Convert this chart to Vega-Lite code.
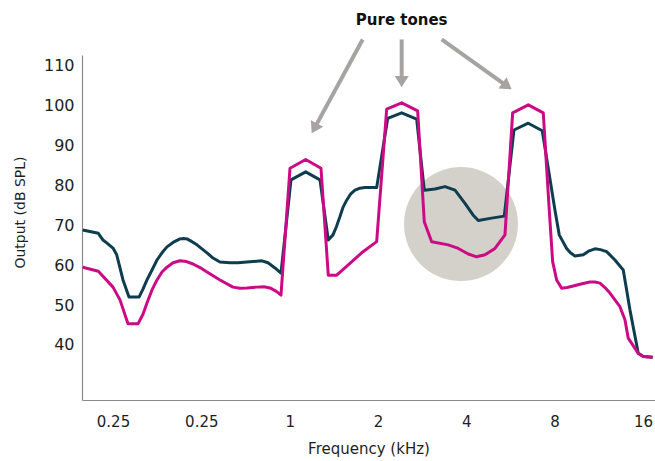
{
  "$schema": "https://vega.github.io/schema/vega-lite/v6.json",
  "width": 573,
  "height": 345,
  "autosize": "none",
  "padding": {"left": 82, "top": 55, "right": 0, "bottom": 61},
  "background": "#ffffff",
  "config": {
    "view": {"stroke": null},
    "font": "DejaVu Sans",
    "axis": {"grid": false, "ticks": false, "tickSize": 0, "domainColor": "#8a8a8a", "domainWidth": 1.2, "labelColor": "#1e1e1e", "titleColor": "#1e1e1e", "titleFontWeight": "normal"}
  },
  "datasets": {
    "curves": [
      {"series": "Curve A", "f": 0.1971, "db": 68.8},
      {"series": "Curve A", "f": 0.2228, "db": 68.0},
      {"series": "Curve A", "f": 0.2311, "db": 66.3},
      {"series": "Curve A", "f": 0.2379, "db": 65.6},
      {"series": "Curve A", "f": 0.25, "db": 64.3},
      {"series": "Curve A", "f": 0.2574, "db": 62.6},
      {"series": "Curve A", "f": 0.2704, "db": 56.3},
      {"series": "Curve A", "f": 0.2834, "db": 52.0},
      {"series": "Curve A", "f": 0.3066, "db": 52.0},
      {"series": "Curve A", "f": 0.3163, "db": 54.0},
      {"series": "Curve A", "f": 0.3264, "db": 56.3},
      {"series": "Curve A", "f": 0.3395, "db": 58.8},
      {"series": "Curve A", "f": 0.3531, "db": 61.3},
      {"series": "Curve A", "f": 0.3672, "db": 63.1},
      {"series": "Curve A", "f": 0.3819, "db": 64.6},
      {"series": "Curve A", "f": 0.4003, "db": 65.7},
      {"series": "Curve A", "f": 0.4229, "db": 66.6},
      {"series": "Curve A", "f": 0.4347, "db": 66.7},
      {"series": "Curve A", "f": 0.4468, "db": 66.6},
      {"series": "Curve A", "f": 0.4647, "db": 65.9},
      {"series": "Curve A", "f": 0.4833, "db": 65.1},
      {"series": "Curve A", "f": 0.5026, "db": 64.1},
      {"series": "Curve A", "f": 0.5228, "db": 63.1},
      {"series": "Curve A", "f": 0.5479, "db": 61.8},
      {"series": "Curve A", "f": 0.5789, "db": 60.8},
      {"series": "Curve A", "f": 0.6261, "db": 60.6},
      {"series": "Curve A", "f": 0.6667, "db": 60.6},
      {"series": "Curve A", "f": 0.7155, "db": 60.8},
      {"series": "Curve A", "f": 0.8048, "db": 61.1},
      {"series": "Curve A", "f": 0.8437, "db": 60.6},
      {"series": "Curve A", "f": 0.8913, "db": 59.3},
      {"series": "Curve A", "f": 0.9343, "db": 58.0},
      {"series": "Curve A", "f": 1.0106, "db": 81.4},
      {"series": "Curve A", "f": 1.1342, "db": 83.4},
      {"series": "Curve A", "f": 1.2688, "db": 81.4},
      {"series": "Curve A", "f": 1.3542, "db": 66.3},
      {"series": "Curve A", "f": 1.4051, "db": 67.6},
      {"series": "Curve A", "f": 1.4442, "db": 69.7},
      {"series": "Curve A", "f": 1.4845, "db": 72.2},
      {"series": "Curve A", "f": 1.5198, "db": 74.5},
      {"series": "Curve A", "f": 1.5647, "db": 76.3},
      {"series": "Curve A", "f": 1.6119, "db": 77.8},
      {"series": "Curve A", "f": 1.6698, "db": 78.8},
      {"series": "Curve A", "f": 1.7366, "db": 79.3},
      {"series": "Curve A", "f": 1.8061, "db": 79.5},
      {"series": "Curve A", "f": 1.8784, "db": 79.5},
      {"series": "Curve A", "f": 1.9799, "db": 79.5},
      {"series": "Curve A", "f": 2.1584, "db": 96.8},
      {"series": "Curve A", "f": 2.4091, "db": 98.2},
      {"series": "Curve A", "f": 2.7097, "db": 96.6},
      {"series": "Curve A", "f": 2.8765, "db": 78.8},
      {"series": "Curve A", "f": 3.1284, "db": 79.1},
      {"series": "Curve A", "f": 3.3839, "db": 79.7},
      {"series": "Curve A", "f": 3.6602, "db": 78.8},
      {"series": "Curve A", "f": 3.9593, "db": 75.5},
      {"series": "Curve A", "f": 4.2156, "db": 72.6},
      {"series": "Curve A", "f": 4.3948, "db": 71.2},
      {"series": "Curve A", "f": 4.8815, "db": 71.8},
      {"series": "Curve A", "f": 5.3888, "db": 72.3},
      {"series": "Curve A", "f": 5.8153, "db": 93.9},
      {"series": "Curve A", "f": 6.5058, "db": 95.6},
      {"series": "Curve A", "f": 7.2612, "db": 93.7},
      {"series": "Curve A", "f": 8.0225, "db": 73.8},
      {"series": "Curve A", "f": 8.2967, "db": 67.6},
      {"series": "Curve A", "f": 8.793, "db": 64.2},
      {"series": "Curve A", "f": 9.059, "db": 63.1},
      {"series": "Curve A", "f": 9.3853, "db": 62.3},
      {"series": "Curve A", "f": 10.016, "db": 62.6},
      {"series": "Curve A", "f": 10.499, "db": 63.6},
      {"series": "Curve A", "f": 10.98, "db": 64.1},
      {"series": "Curve A", "f": 11.464, "db": 63.9},
      {"series": "Curve A", "f": 12.035, "db": 63.4},
      {"series": "Curve A", "f": 12.846, "db": 61.3},
      {"series": "Curve A", "f": 13.711, "db": 58.8},
      {"series": "Curve A", "f": 14.45, "db": 48.8},
      {"series": "Curve A", "f": 15.423, "db": 37.9},
      {"series": "Curve A", "f": 16.04, "db": 37.1},
      {"series": "Curve A", "f": 17.27, "db": 36.9},
      {"series": "Curve B", "f": 0.1971, "db": 59.5},
      {"series": "Curve B", "f": 0.2228, "db": 58.5},
      {"series": "Curve B", "f": 0.25, "db": 54.5},
      {"series": "Curve B", "f": 0.2641, "db": 51.3},
      {"series": "Curve B", "f": 0.2812, "db": 45.3},
      {"series": "Curve B", "f": 0.3042, "db": 45.3},
      {"series": "Curve B", "f": 0.3163, "db": 47.7},
      {"series": "Curve B", "f": 0.3264, "db": 50.5},
      {"series": "Curve B", "f": 0.3395, "db": 53.8},
      {"series": "Curve B", "f": 0.3531, "db": 56.3},
      {"series": "Curve B", "f": 0.3672, "db": 58.3},
      {"series": "Curve B", "f": 0.3819, "db": 59.5},
      {"series": "Curve B", "f": 0.4003, "db": 60.6},
      {"series": "Curve B", "f": 0.4229, "db": 61.1},
      {"series": "Curve B", "f": 0.4451, "db": 60.9},
      {"series": "Curve B", "f": 0.4684, "db": 60.3},
      {"series": "Curve B", "f": 0.4948, "db": 59.4},
      {"series": "Curve B", "f": 0.5228, "db": 58.3},
      {"series": "Curve B", "f": 0.5501, "db": 57.3},
      {"series": "Curve B", "f": 0.5789, "db": 56.3},
      {"series": "Curve B", "f": 0.641, "db": 54.5},
      {"series": "Curve B", "f": 0.6772, "db": 54.2},
      {"series": "Curve B", "f": 0.7155, "db": 54.3},
      {"series": "Curve B", "f": 0.7739, "db": 54.5},
      {"series": "Curve B", "f": 0.8176, "db": 54.6},
      {"series": "Curve B", "f": 0.857, "db": 54.3},
      {"series": "Curve B", "f": 0.8983, "db": 53.5},
      {"series": "Curve B", "f": 0.9343, "db": 52.5},
      {"series": "Curve B", "f": 1.0027, "db": 84.3},
      {"series": "Curve B", "f": 1.1342, "db": 86.5},
      {"series": "Curve B", "f": 1.2788, "db": 84.3},
      {"series": "Curve B", "f": 1.3542, "db": 57.5},
      {"series": "Curve B", "f": 1.4466, "db": 57.5},
      {"series": "Curve B", "f": 1.5806, "db": 60.0},
      {"series": "Curve B", "f": 1.7601, "db": 63.1},
      {"series": "Curve B", "f": 1.9799, "db": 65.9},
      {"series": "Curve B", "f": 2.1414, "db": 99.1},
      {"series": "Curve B", "f": 2.4091, "db": 100.7},
      {"series": "Curve B", "f": 2.7311, "db": 98.7},
      {"series": "Curve B", "f": 2.8765, "db": 70.9},
      {"series": "Curve B", "f": 3.0483, "db": 65.9},
      {"series": "Curve B", "f": 3.4724, "db": 65.1},
      {"series": "Curve B", "f": 3.756, "db": 64.2},
      {"series": "Curve B", "f": 4.0624, "db": 62.8},
      {"series": "Curve B", "f": 4.3395, "db": 62.1},
      {"series": "Curve B", "f": 4.6316, "db": 62.6},
      {"series": "Curve B", "f": 5.0095, "db": 64.2},
      {"series": "Curve B", "f": 5.4183, "db": 67.6},
      {"series": "Curve B", "f": 5.7558, "db": 98.2},
      {"series": "Curve B", "f": 6.5058, "db": 100.2},
      {"series": "Curve B", "f": 7.3182, "db": 98.2},
      {"series": "Curve B", "f": 7.671, "db": 73.8},
      {"series": "Curve B", "f": 7.878, "db": 60.9},
      {"series": "Curve B", "f": 8.13, "db": 56.3},
      {"series": "Curve B", "f": 8.455, "db": 54.2},
      {"series": "Curve B", "f": 8.8145, "db": 54.4},
      {"series": "Curve B", "f": 9.2605, "db": 54.8},
      {"series": "Curve B", "f": 9.837, "db": 55.3},
      {"series": "Curve B", "f": 10.557, "db": 55.8},
      {"series": "Curve B", "f": 10.98, "db": 55.8},
      {"series": "Curve B", "f": 11.419, "db": 55.5},
      {"series": "Curve B", "f": 11.876, "db": 54.4},
      {"series": "Curve B", "f": 12.351, "db": 53.0},
      {"series": "Curve B", "f": 13.36, "db": 49.6},
      {"series": "Curve B", "f": 13.895, "db": 46.3},
      {"series": "Curve B", "f": 14.259, "db": 41.7},
      {"series": "Curve B", "f": 15.423, "db": 37.9},
      {"series": "Curve B", "f": 16.04, "db": 37.1},
      {"series": "Curve B", "f": 17.27, "db": 36.9}
    ],
    "arrows": [
      {"arrow": 1, "f": 1.7738, "db": 116.6, "f2": 1.2143, "db2": 94.3},
      {"arrow": 2, "f": 2.4091, "db": 116.6, "f2": 2.4091, "db2": 106.0},
      {"arrow": 3, "f": 3.297, "db": 116.6, "f2": 5.5085, "db2": 104.9}
    ]
  },
  "encoding": {
    "x": {
      "field": "f", "type": "quantitative",
      "scale": {"type": "log", "base": 2, "domain": [0.196, 17.59], "nice": false},
      "axis": {"values": [0.25, 0.5, 1, 2, 4, 8, 16], "labelExpr": "datum.value == 0.5 ? '0.25' : toString(datum.value)", "labelFontSize": 15, "labelPadding": 14, "title": "Frequency (kHz)", "titleFontSize": 15, "titlePadding": 12, "labelFlush": false, "labelOverlap": false}
    },
    "y": {
      "field": "db", "type": "quantitative",
      "scale": {"domain": [26.2, 112.7], "nice": false, "zero": false},
      "axis": {"values": [40, 50, 60, 70, 80, 90, 100, 110], "labelFontSize": 16, "labelPadding": 8, "title": "Output (dB SPL)", "titleFontSize": 14, "titleX": -62, "titleY": 157, "titleBaseline": "middle"}
    }
  },
  "layer": [
    {
      "data": {"values": [{"f": 3.837, "db": 70.3}]},
      "mark": {"type": "point", "shape": "circle", "filled": true, "size": 12996, "color": "#d4d1cb", "opacity": 1}
    },
    {
      "data": {"name": "curves"},
      "mark": {"type": "line", "strokeWidth": 3, "strokeJoin": "round", "interpolate": "linear"},
      "encoding": {
        "color": {"field": "series", "type": "nominal", "scale": {"domain": ["Curve A", "Curve B"], "range": ["#0d3d4e", "#cc0a85"]}, "legend": null}
      }
    },
    {
      "data": {"name": "arrows"},
      "mark": {"type": "rule", "strokeWidth": 4, "color": "#a6a3a0"},
      "encoding": {
        "x2": {"field": "f2"},
        "y2": {"field": "db2"}
      }
    },
    {
      "data": {"name": "arrows"},
      "transform": [{"filter": "datum.arrow == 1"}],
      "mark": {"type": "point", "filled": true, "opacity": 1, "color": "#a6a3a0", "shape": "M-1,-0.8L1,-0.8L0,0.8Z", "size": 196, "angle": 28.5},
      "encoding": {"x": {"field": "f2", "type": "quantitative"}, "y": {"field": "db2", "type": "quantitative"}}
    },
    {
      "data": {"name": "arrows"},
      "transform": [{"filter": "datum.arrow == 2"}],
      "mark": {"type": "point", "filled": true, "opacity": 1, "color": "#a6a3a0", "shape": "M-1,-0.8L1,-0.8L0,0.8Z", "size": 196, "angle": 0},
      "encoding": {"x": {"field": "f2", "type": "quantitative"}, "y": {"field": "db2", "type": "quantitative"}}
    },
    {
      "data": {"name": "arrows"},
      "transform": [{"filter": "datum.arrow == 3"}],
      "mark": {"type": "point", "filled": true, "opacity": 1, "color": "#a6a3a0", "shape": "M-1,-0.8L1,-0.8L0,0.8Z", "size": 196, "angle": 305.5},
      "encoding": {"x": {"field": "f2", "type": "quantitative"}, "y": {"field": "db2", "type": "quantitative"}}
    },
    {
      "data": {"values": [{"f": 2.4091, "db": 121.45, "label": "Pure tones"}]},
      "mark": {"type": "text", "fontSize": 15, "fontWeight": "bold", "color": "#111111", "align": "center", "baseline": "middle"},
      "encoding": {"text": {"field": "label"}}
    }
  ]
}
